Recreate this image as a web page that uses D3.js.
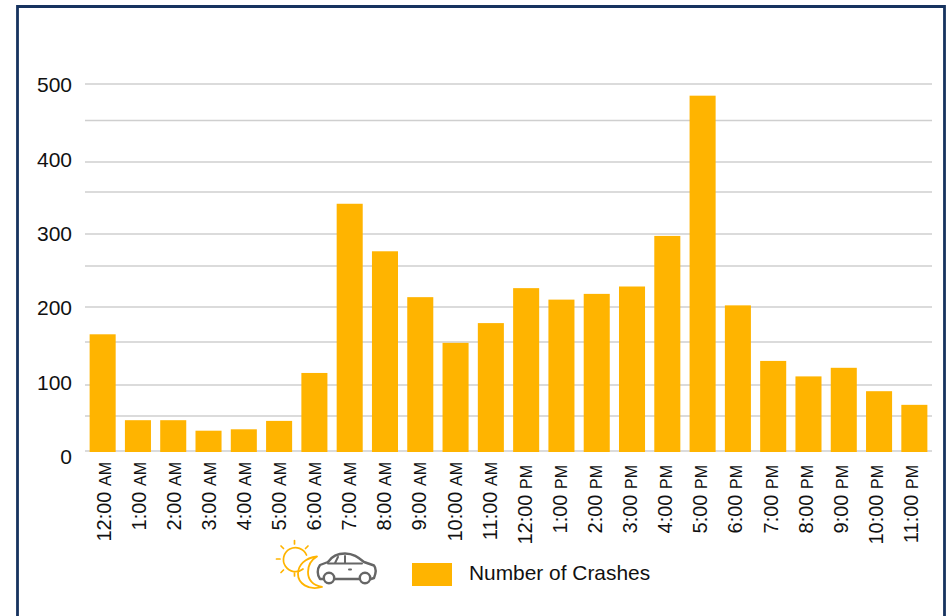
<!DOCTYPE html>
<html><head><meta charset="utf-8">
<style>html,body{margin:0;padding:0;background:#fff;overflow:hidden}svg{display:block}text{font-family:"Liberation Sans",Arial,sans-serif;fill:#111}</style>
<script src="https://cdn.jsdelivr.net/npm/d3@7/dist/d3.min.js"></script>
</head><body><svg id="c" width="951" height="616"></svg>
<script>
const hours = ["12:00","1:00","2:00","3:00","4:00","5:00","6:00","7:00","8:00","9:00","10:00","11:00","12:00","1:00","2:00","3:00","4:00","5:00","6:00","7:00","8:00","9:00","10:00","11:00"];
const periods = ["AM","AM","AM","AM","AM","AM","AM","AM","AM","AM","AM","AM","PM","PM","PM","PM","PM","PM","PM","PM","PM","PM","PM","PM"];
const crashes = [161,44,44,29,31,43,114,336,273,212,149,177,223,209,216,225,297,484,202,128,110,120,90,68];
const gridValues = [0,50,100,150,200,250,300,350,400,450,500];
const labelValues = [0,100,200,300,400,500];
const seriesName = "Number of Crashes";
const categories = hours.map((h,i)=>i);

const svg = d3.select("#c");
const x = d3.scaleBand().domain(categories).range([85,932]).paddingInner(0.262).paddingOuter(0.131);
const xLabel = d3.scalePoint().domain(categories).range([110.5,918]);
// The picture's gridlines are unevenly spaced, so the value scale is piecewise.
const y = d3.scaleLinear().domain(gridValues).range([451,416,385,342,307,266,234,192,162,120.5,84]);
const yLabel = d3.scaleLinear().domain([0,500]).range([456.5,85]);

// frame
svg.append("path").attr("d","M17.5,616V6.5H944.5V616").attr("fill","none").attr("stroke","#17335f").attr("stroke-width",2.8);

// grid
svg.append("g").selectAll("line").data(gridValues).join("line")
  .attr("x1",85).attr("x2",932).attr("y1",d=>y(d)).attr("y2",d=>y(d))
  .attr("stroke","#cfcfcf").attr("stroke-width",1.4);

// y labels
svg.append("g").selectAll("text").data(labelValues).join("text")
  .attr("x",72).attr("y",d=>yLabel(d)).attr("text-anchor","end").attr("dy","0.35em")
  .attr("font-size",21).text(d=>d);

// bars
svg.append("g").selectAll("rect").data(crashes).join("rect")
  .attr("x",(d,i)=>x(i)).attr("width",x.bandwidth())
  .attr("y",d=>y(d)).attr("height",d=>y(0)-y(d)+1)
  .attr("fill","#ffb400");

// x labels
const xl = svg.append("g").selectAll("text").data(categories).join("text")
  .attr("transform",i=>`translate(${xLabel(i)},${periods[i]==="AM"?462:465}) rotate(-90)`)
  .attr("text-anchor","end");
xl.append("tspan").attr("font-size",20).text(i=>hours[i]+" ");
xl.append("tspan").attr("font-size",16).text(i=>periods[i]);

// legend
svg.append("rect").attr("x",412).attr("y",563).attr("width",40).attr("height",23).attr("fill","#ffb400");
svg.append("text").attr("x",469).attr("y",580).attr("font-size",20.9).text(seriesName);

// icon
const ic = svg.append("g").attr("fill","none").attr("stroke-linecap","round").attr("stroke-linejoin","round");
const sun = ic.append("g").attr("stroke","#ffb400").attr("stroke-width",1.7);
sun.append("path").attr("d","M303,569A12,12 0 1 1 306.5,555");
sun.append("path").attr("d","M294.5,540.5V544M281,546L283.5,548.5M308,546L305.5,548.5M276.5,559H280M281,572.5L283.5,570M294.5,573V576");
ic.append("path").attr("stroke","#ffb400").attr("stroke-width",1.8)
  .attr("d","M317,556.5C305,558 298,565 298,574C298,583 308,591 322,587C312,585 308,579 308,572C308,565 311,560 317,556.5Z");
const car = ic.append("g").attr("stroke","#666").attr("stroke-width",2.4);
car.append("path").attr("d","M323.5,579H320C317,575 317,569 320,565L328,562C332,556 337,553.5 345,553.5C353,553.5 358,557 364,562L374,565.5C376,568 376,573 374,578L371,579");
car.append("path").attr("d","M335,579H359");
car.append("circle").attr("cx",329).attr("cy",578).attr("r",5.2);
car.append("circle").attr("cx",365).attr("cy",578).attr("r",5.2);
car.append("path").attr("stroke-width",2).attr("d","M335,563L338,557M345,556V563M328,563.5H362M349,569.5H351");
</script></body></html>
